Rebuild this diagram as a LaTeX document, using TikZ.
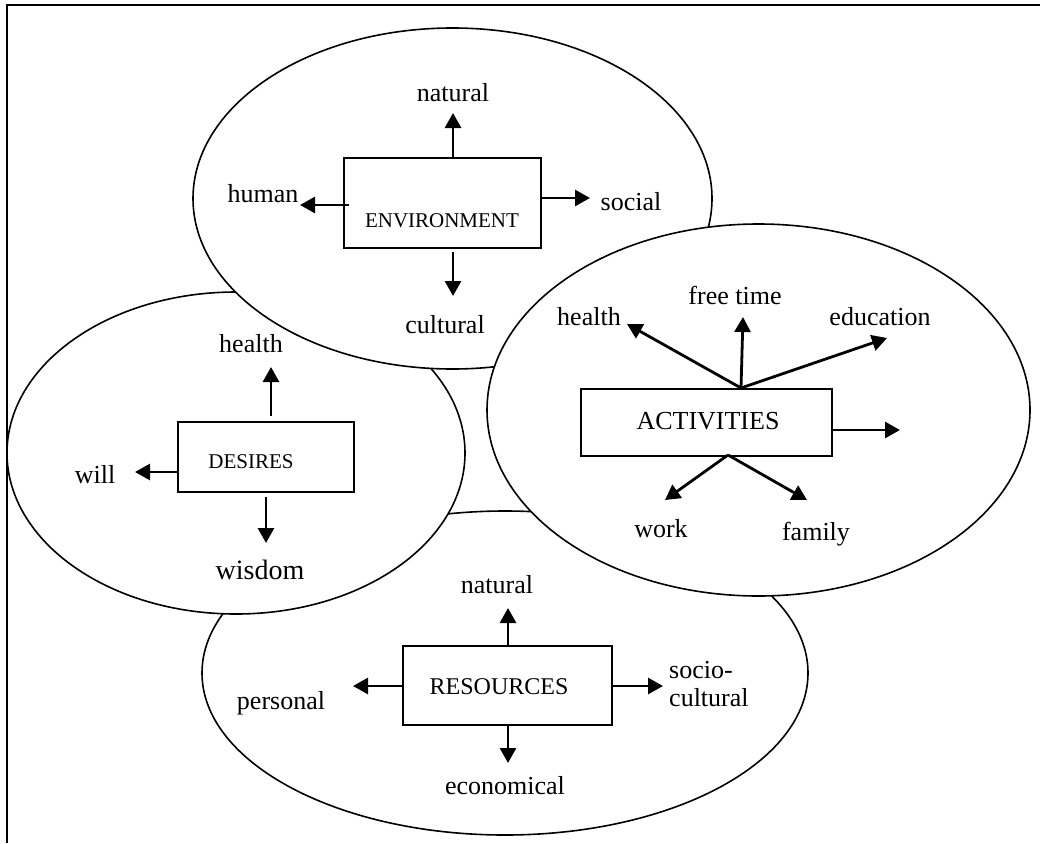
\documentclass[tikz,border=0pt]{standalone}
\usepackage{fontspec}
\setmainfont{Liberation Serif}
\usetikzlibrary{arrows.meta,shapes.geometric}

\begin{document}
\begin{tikzpicture}[x=1pt,y=-1pt,
  zone/.style={ellipse, draw, fill=white, line width=1.6pt, inner sep=0pt},
  catbox/.style={rectangle, draw, line width=1.8pt, inner sep=0pt},
  arr/.style={line width=2.8pt, -{Triangle[length=15pt,width=16pt]}},
  lbl/.style={inner sep=0pt, anchor=base, font=\fontsize{26}{28}\selectfont},
  ttl/.style={inner sep=0pt, anchor=base}]

\useasboundingbox (0,0) rectangle (1040,843);
\fill[white] (0,0) rectangle (1040,843);

% the four overlapping zones, back to front
\node[zone, minimum width=606pt, minimum height=324pt] (resZone) at (505,673) {};
\node[zone, minimum width=458pt, minimum height=322pt] (desZone) at (236,453) {};
\node[zone, minimum width=519pt, minimum height=341pt] (envZone) at (452.5,198.5) {};
\node[zone, minimum width=543pt, minimum height=372pt] (actZone) at (758.5,410) {};

% category boxes
\node[catbox, minimum width=197pt, minimum height=90pt] (envBox) at (442.5,203) {};
\node[catbox, minimum width=176pt, minimum height=70pt] (desBox) at (266,457) {};
\node[catbox, minimum width=251pt, minimum height=67pt] (actBox) at (706.5,422.5) {};
\node[catbox, minimum width=209pt, minimum height=79pt] (resBox) at (507.5,685.5) {};

% box titles
\node[ttl, font=\fontsize{21}{24}\selectfont] (envTitle) at (442,227) {ENVIRONMENT};
\node[ttl, font=\fontsize{21}{24}\selectfont] (desTitle) at (251,468) {DESIRES};
\node[ttl, font=\fontsize{26}{28}\selectfont] (actTitle) at (708,429) {ACTIVITIES};
\node[ttl, font=\fontsize{24}{28}\selectfont] (resTitle) at (499,694) {RESOURCES};

% ---------- environment ----------
\node[lbl] (envNat) at (453,101) {natural};
\node[lbl] (envHum) at (263,202) {human};
\node[lbl] (envSoc) at (631,210) {social};
\node[lbl] (envCul) at (445,333) {cultural};
\coordinate (envWs) at (349,205);
\coordinate (envNt) at (453,113);
\coordinate (envWt) at (300,205);
\coordinate (envEt) at (590,198);
\coordinate (envSs) at (453,252);
\coordinate (envSt) at (453,296);
\draw[arr] (envBox.north -| envNt) -- (envNt);
\draw[arr] (envWs) -- (envWt);
\draw[arr] (envBox.east |- envEt) -- (envEt);
\draw[arr] (envSs) -- (envSt);

% ---------- desires ----------
\node[lbl] (desHea) at (251,352) {health};
\node[lbl] (desWil) at (95,483) {will};
\node[lbl, font=\fontsize{28}{30}\selectfont] (desWis) at (260,579) {wisdom};
\coordinate (desNs) at (271,416);
\coordinate (desNt) at (271,367);
\coordinate (desWt) at (135,472);
\coordinate (desSs) at (266,497);
\coordinate (desSt) at (266,543);
\draw[arr] (desNs) -- (desNt);
\draw[arr] (desBox.west |- desWt) -- (desWt);
\draw[arr] (desSs) -- (desSt);

% ---------- activities ----------
\node[lbl] (actHea) at (589,325) {health};
\node[lbl] (actFre) at (735,304) {free time};
\node[lbl] (actEdu) at (880,325) {education};
\node[lbl] (actWor) at (661,537) {work};
\node[lbl] (actFam) at (816,540) {family};
\coordinate (actTop) at (741,388);
\coordinate (actBot) at (728,455);
\coordinate (actHt) at (627,324);
\coordinate (actFt) at (743,317);
\coordinate (actEt) at (887,338);
\coordinate (actRt) at (900,430);
\coordinate (actWt) at (665,500);
\coordinate (actMt) at (807,500);
\draw[arr] (actTop) -- (actHt);
\draw[arr] (actTop) -- (actFt);
\draw[arr] (actTop) -- (actEt);
\draw[arr] (actBox.east |- actRt) -- (actRt);
\draw[arr] (actBot) -- (actWt);
\draw[arr] (actBot) -- (actMt);

% ---------- resources ----------
\node[lbl] (resNat) at (497,593) {natural};
\node[lbl] (resPer) at (281,709) {personal};
\node[lbl] (resEco) at (505,794) {economical};
\node[lbl, anchor=west, align=left] (resSoc) at (669,684) {socio-\\cultural};
\coordinate (resNt) at (508,608);
\coordinate (resWt) at (353,686);
\coordinate (resSt) at (508,763);
\coordinate (resEt) at (663,686);
\draw[arr] (resBox.north -| resNt) -- (resNt);
\draw[arr] (resBox.west |- resWt) -- (resWt);
\draw[arr] (resBox.south -| resSt) -- (resSt);
\draw[arr] (resBox.east |- resEt) -- (resEt);

% page frame (top and left edges)
\draw[line width=2.2pt] (7,843) -- (7,5) -- (1040,5);

\end{tikzpicture}
\end{document}
